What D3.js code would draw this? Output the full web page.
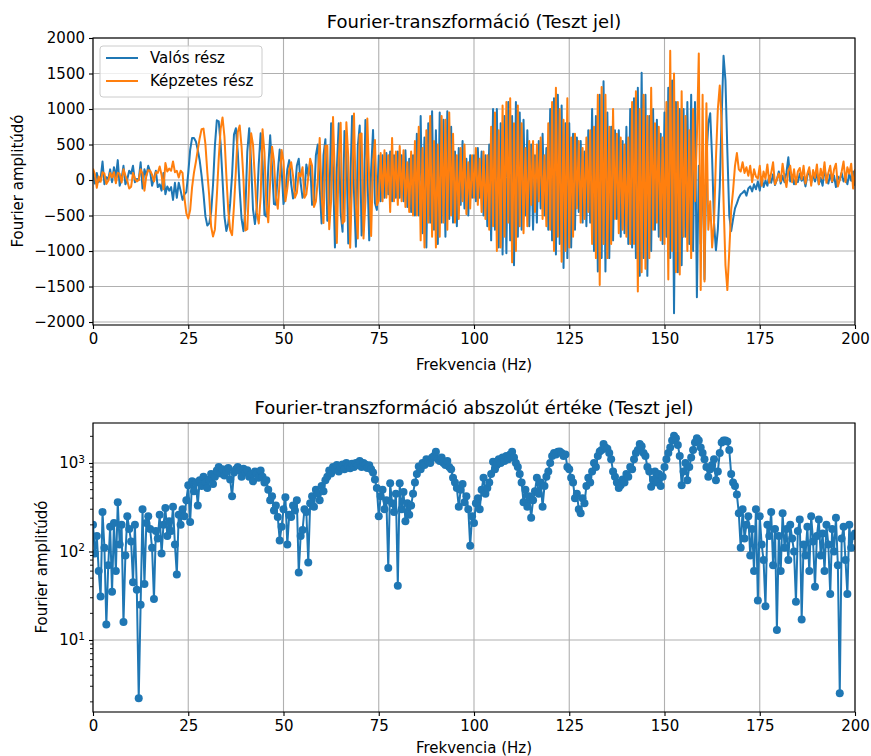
<!DOCTYPE html>
<html>
<head>
<meta charset="utf-8">
<script src="https://d3js.org/d3.v7.min.js"></script>
<style>
    body { margin: 0; background: #fff; }
    svg text { font-family: "DejaVu Sans", sans-serif; fill: #000; }
</style>
</head>
<body>
<svg id="chart" width="871" height="756"></svg>
<script>
// frequency step of the spectrum (Hz), one value every half hertz from 0 to 200
const FREQ_STEP = 0.5;

const realPart = [
    120, -50, 100, -30, 20, 260, -60, 40, 10, 150,
    -30, 180, 40, 280, -80, 20, 200, -60, 10, 130,
    90, 200, -30, 15, 1, 250, -120, 150, 60, 200,
    120, -80, 20, 130, -100, -60, -150, 100, -200, -90,
    -150, -100, -280, -40, -250, -40, -150, -280, -200, -171,
    96, 424, 591, 591, 544, 424, 275, 63, -194, -509,
    -640, -611, -459, -70, 488, 840, 827, 505, 0, -514,
    -717, -614, -330, 68, 641, 729, 390, -136, -552, -720,
    -410, 400, 730, 239, -418, -620, -386, 222, 658, 260,
    -489, -514, 171, 629, 171, -339, -348, 116, 430, 154,
    -339, -200, 150, 280, -50, -260, -150, 200, 300, -40,
    -250, -180, 220, 60, 250, -350, -300, 350, 500, -104,
    -611, 350, 575, -575, -400, 799, 157, -950, 157, 799,
    -465, -728, 689, 470, -893, -169, 900, -165, -940, 475,
    766, -781, -475, 846, 153, -850, 139, 705, -325, -421,
    345, -300, 350, -250, 380, -200, 400, -300, 350, -250,
    400, -250, 350, -300, 420, -380, 300, -450, 350, -500,
    650, -500, 900, -750, 600, -950, 800, -600, 970, -700,
    700, -900, 950, -600, 850, -800, 970, -550, 750, -600,
    400, -650, 450, -350, 550, -400, 300, -500, 350, -250,
    350, -300, 450, -250, 400, -500, 350, -650, 500, -850,
    1000, -700, 1000, -950, 800, -1050, 900, -1030, 1100, -850,
    900, -1200, 1100, -800, 950, -700, 850, -500, 700, -650,
    500, -700, 350, -600, 550, -400, 650, -500, 450, -700,
    1000, -850, 1150, -1050, 1200, -900, 1050, -1240, 800, -1100,
    800, -950, 650, -700, 600, -450, 550, -600, 400, -650,
    700, -600, 1000, -1000, 900, -1290, 1200, -1100, 1390, -1290,
    950, -1100, 750, -850, 700, -550, 700, -800, 550, -750,
    750, -900, 1000, -950, 1150, -1100, 1300, -1350, 1510, -1100,
    1200, -1350, 900, -1000, 1000, -700, 850, -800, 650, -900,
    950, -800, 1300, -1100, 1400, -1877, 1100, -1300, 1000, -1200,
    1000, -800, 1100, -900, 1200, -1000, 1100, -1650, 200, -900,
    400, -1400, 300, 800, 940, 300, -600, -990, -700, -100,
    900, 1750, 1400, 400, -500, -720, -550, -400, -330, -250,
    -200, -180, -150, -220, -120, -90, -160, -60, -130, -20,
    -150, 40, -100, -10, -80, 60, -40, 80, -70, 5,
    120, -50, 60, -30, 100, 320, -20, 70, -60, 20,
    -30, 90, -10, 40, -90, 60, 130, -40, 80, -20,
    110, -60, 30, -80, 150, 20, -50, 80, -30, 60,
    -100, 50, 2, 100, -20, 40, -60, 90, -10, 120,
    -80
];

// imaginary part of the transform
const imagPart = [
    160, 80, -110, 50, -25, 110, 90, -55, -11, 100,
    35, 110, -45, 100, 90, -35, 150, 65, -12, -120,
    -95, 100, 20, -20, 2, 150, 90, -150, 65, 140,
    130, 75, -20, 110, 100, 190, 70, -130, 240, 120,
    160, 130, 260, 110, 130, 35, 130, 100, -250, -470,
    -542, -424, -104, 104, 254, 424, 589, 717, 724, 509,
    113, -222, -655, -797, -696, -225, 301, 721, 880, 613,
    63, -430, -707, -777, -370, 129, 675, 768, 463, 0,
    -710, -693, 0, 658, 498, 0, -460, -611, -239, 714,
    382, -347, -596, -22, 470, 265, -235, -404, -15, 423,
    265, -300, -120, 150, 250, 60, -250, -180, 100, 50,
    180, -250, -200, 40, 300, 200, -380, -300, 0, 591,
    -222, -606, 482, 482, -693, -291, 887, 0, -887, 291,
    805, -611, -579, 814, 325, -955, 0, 936, -342, -823,
    643, 656, -823, -308, 867, 0, -788, 257, 563, -354,
    -289, 380, -300, 420, -250, 350, -450, 590, -300, 400,
    -350, 480, -300, 420, -380, 250, -450, 400, -500, 550,
    -500, 750, -850, 450, -950, 700, -600, 900, -800, 550,
    -950, 500, -800, 900, -600, 850, -700, 950, -500, 650,
    -600, 350, -550, 450, -300, 500, -480, 250, -400, 350,
    -250, 450, -350, 300, -450, 400, -550, 350, -700, 750,
    -650, 950, -1000, 700, -950, 1050, -800, 1100, -600, 1150,
    -1160, 800, -1000, 1050, -650, 800, -750, 450, -650, 550,
    -350, 550, -450, 500, -300, 600, -550, 350, -650, 800,
    -700, 1100, -1000, 1300, -800, 1000, -1150, 850, -1000, 1150,
    -950, 600, -800, 650, -400, 550, -600, 450, -550, 600,
    -450, 700, -900, 750, -1100, 1200, -1480, 1310, -900, 1200,
    -1100, 750, -900, 1000, -550, 650, -750, 600, -700, 500,
    -800, 600, -900, 1100, -900, 1250, -1570, 1000, -1300, 1200,
    -1250, 900, -1100, 1300, -700, 800, -600, 750, -850, 600,
    -900, 1100, -1400, 1820, -1000, 1500, -1300, 1100, -1330, 1250,
    -800, 900, -1000, 700, -1100, 1000, -300, 600, 1780, -1550,
    1200, -1430, 1080, -700, -300, -950, -600, 300, 1000, 1330,
    800, -300, -1200, -1550, -1000, -420, -150, 200, 380, 150,
    120, 250, 100, 180, 60, 200, -30, 150, 50, 20,
    200, -80, 120, 15, 220, -40, 100, 250, -60, 10,
    90, -20, 230, 40, -100, 130, 200, -30, 150, -60,
    120, 170, 10, 200, -50, 90, 180, -80, 140, 30,
    220, -60, 160, 20, 250, -40, 100, 200, -20, 150,
    230, -90, 1, 120, 260, -30, 180, 90, 230, -120,
    150
];

const magnitude = [
    200, 95, 150, 60, 31, 280, 110, 15, 70, 190,
    35, 210, 60, 360, 120, 200, 16, 90, 250, 180,
    130, 45, 200, 37, 2.2, 25, 300, 43, 210, 250,
    180, 110, 29, 170, 140, 260, 95, 200, 310, 150,
    220, 170, 320, 120, 55, 260, 200, 300, 250, 380,
    560, 215, 620, 480, 600, 330, 640, 550, 700, 600,
    520, 650, 750, 580, 700, 820, 900, 760, 850, 720,
    800, 880, 650, 420, 780, 850, 900, 820, 700, 860,
    780, 830, 700, 750, 620, 800, 760, 680, 820, 700,
    600, 640, 500, 380, 420, 290, 330, 245, 133, 190,
    300, 410, 120, 260, 245, 330, 290, 380, 58, 150,
    175, 300, 280, 75, 350, 420, 320, 500, 450, 380,
    550, 480, 640, 700, 820, 760, 900, 850, 950, 800,
    900, 960, 850, 1000, 920, 870, 980, 900, 1000, 950,
    1050, 900, 1000, 960, 880, 940, 850, 780, 650, 520,
    250, 420, 500, 300, 380, 65, 590, 350, 280, 450,
    41, 590, 300, 470, 220, 350, 260, 330, 450, 600,
    750, 910, 850, 1000, 950, 1100, 1050, 1000, 1150, 1200,
    1340, 1100, 1050, 1150, 1000, 950, 1050, 900, 850, 680,
    600, 520, 320, 500, 580, 360, 420, 300, 116, 250,
    210, 350, 400, 300, 500, 680, 450, 520, 600, 750,
    1030, 850, 950, 1100, 1000, 1150, 1050, 1200, 1100, 1250,
    1340, 1150, 1000, 900, 750, 600, 360, 500, 320, 420,
    240, 380, 480, 680, 450, 600, 320, 550, 700, 800,
    1000, 1200, 1300, 1250, 1340, 1350, 1300, 1200, 1250, 900,
    850, 680, 600, 400, 450, 300, 270, 400, 350, 550,
    680, 600, 800, 1000, 900, 1200, 1350, 1400, 1640, 1500,
    1450, 1300, 1100, 800, 700, 600, 520, 560, 650, 600,
    750, 700, 900, 850, 1100, 1300, 1400, 1640, 1550, 1300,
    1200, 900, 800, 540, 650, 800, 600, 750, 550, 700,
    900, 1100, 1300, 1500, 1800, 2030, 1900, 1600, 1200, 560,
    800, 1000, 640, 900, 1150, 1400, 1700, 1900, 1800, 1500,
    1300, 1100, 900, 700, 850, 950, 1100, 640, 800, 1300,
    1700, 1800, 1800, 1750, 1400, 750, 600, 550, 440, 270,
    110, 300, 140, 200, 250, 90, 180, 60, 300, 28,
    250, 120, 80, 24, 200, 150, 280, 70, 180, 13,
    150, 60, 270, 110, 180, 80, 200, 140, 100, 27,
    170, 230, 17, 120, 90, 190, 60, 250, 130, 40,
    150, 230, 90, 160, 60, 200, 120, 33, 180, 100,
    240, 70, 2.5, 140, 190, 80, 33, 200, 110, 150,
    160
];

// tick values
const xTicks = [0, 25, 50, 75, 100, 125, 150, 175, 200];
const yTicksTop = [-2000, -1500, -1000, -500, 0, 500, 1000, 1500, 2000];
const yTicksLog = [10, 100, 1000];
const seriesNames = ['Valós rész', 'Képzetes rész'];

const blue = '#1f77b4';
const orange = '#ff7f0e';
const FONT = 15;      // ticks, labels, legend
const TITLE_FONT = 18;

const svg = d3.select('#chart');
const freq = d3.range(realPart.length).map(i => i * FREQ_STEP);

// plot areas
const plotLeft = 93, plotRight = 855;
const panel1 = {top: 38, bottom: 325};
const panel2 = {top: 423, bottom: 712};

const x = d3.scaleLinear().domain([0, 200]).range([plotLeft, plotRight]);
const y1 = d3.scaleLinear().domain([-2042, 2000]).range([panel1.bottom, panel1.top]);
const y2 = d3.scaleLog().domain([1.536, 2830]).range([panel2.bottom, panel2.top]);

// clip paths so lines and markers stay inside the axes
const defs = svg.append('defs');
[['clip1', panel1], ['clip2', panel2]].forEach(([id, p]) => {
    defs.append('clipPath').attr('id', id)
        .append('rect')
        .attr('x', plotLeft).attr('y', p.top)
        .attr('width', plotRight - plotLeft).attr('height', p.bottom - p.top);
});

// grid lines for one panel
function drawGrid(p, yScale, yVals) {
    const g = svg.append('g').attr('stroke', '#b0b0b0').attr('stroke-width', 1.1);
    g.selectAll('.gx').data(xTicks).enter().append('line')
        .attr('x1', d => x(d)).attr('x2', d => x(d))
        .attr('y1', p.top).attr('y2', p.bottom);
    g.selectAll('.gy').data(yVals).enter().append('line')
        .attr('x1', plotLeft).attr('x2', plotRight)
        .attr('y1', d => yScale(d)).attr('y2', d => yScale(d));
}

// x axis with matplotlib-like ticks
function drawXAxis(p) {
    const ax = svg.append('g')
        .attr('transform', 'translate(0,' + p.bottom + ')')
        .call(d3.axisBottom(x).tickValues(xTicks).tickSize(4).tickPadding(4).tickFormat(d3.format('d')));
    ax.select('.domain').remove();
    ax.selectAll('line').attr('stroke', '#000').attr('stroke-width', 1.1);
    ax.selectAll('text').attr('font-size', FONT).attr('font-family', 'DejaVu Sans');
}

function drawFrame(p) {
    svg.append('rect')
        .attr('x', plotLeft).attr('y', p.top)
        .attr('width', plotRight - plotLeft).attr('height', p.bottom - p.top)
        .attr('fill', 'none').attr('stroke', '#000').attr('stroke-width', 1.1);
}

// ---------- upper panel ----------
drawGrid(panel1, y1, yTicksTop);

const line1 = d3.line().x((d, i) => x(freq[i])).y(d => y1(d));
const lines1 = svg.append('g').attr('clip-path', 'url(#clip1)');
lines1.append('path').datum(realPart)
    .attr('d', line1).attr('fill', 'none')
    .attr('stroke', blue).attr('stroke-width', 2).attr('stroke-linejoin', 'round');
lines1.append('path').datum(imagPart)
    .attr('d', line1).attr('fill', 'none')
    .attr('stroke', orange).attr('stroke-width', 2).attr('stroke-linejoin', 'round');

drawFrame(panel1);
drawXAxis(panel1);

const yAx1 = svg.append('g')
    .attr('transform', 'translate(' + plotLeft + ',0)')
    .call(d3.axisLeft(y1).tickValues(yTicksTop).tickSize(4).tickPadding(4)
        .tickFormat(d => d < 0 ? '\u2212' + Math.abs(d) : d));
yAx1.select('.domain').remove();
yAx1.selectAll('line').attr('stroke', '#000').attr('stroke-width', 1.1);
yAx1.selectAll('text').attr('font-size', FONT).attr('font-family', 'DejaVu Sans');

// legend
const legend = svg.append('g').attr('transform', 'translate(100,46)');
legend.append('rect')
    .attr('width', 162).attr('height', 51).attr('rx', 3)
    .attr('fill', '#fff').attr('fill-opacity', 0.8)
    .attr('stroke', '#cccccc').attr('stroke-width', 1);
[blue, orange].forEach((c, i) => {
    const yy = 12 + i * 23;
    legend.append('line')
        .attr('x1', 6).attr('x2', 38).attr('y1', yy).attr('y2', yy)
        .attr('stroke', c).attr('stroke-width', 2);
    legend.append('text')
        .attr('x', 50).attr('y', yy).attr('dy', '0.36em')
        .attr('font-size', FONT).text(seriesNames[i]);
});

svg.append('text').attr('x', (plotLeft + plotRight) / 2).attr('y', 28)
    .attr('text-anchor', 'middle').attr('font-size', TITLE_FONT)
    .text('Fourier-transzformáció (Teszt jel)');
svg.append('text').attr('x', (plotLeft + plotRight) / 2).attr('y', 370)
    .attr('text-anchor', 'middle').attr('font-size', FONT)
    .text('Frekvencia (Hz)');
svg.append('text')
    .attr('transform', 'translate(23,181) rotate(-90)')
    .attr('text-anchor', 'middle').attr('font-size', FONT)
    .text('Fourier amplitúdó');

// ---------- lower panel ----------
drawGrid(panel2, y2, yTicksLog);

const line2 = d3.line().x((d, i) => x(freq[i])).y(d => y2(d));
const lines2 = svg.append('g').attr('clip-path', 'url(#clip2)');
lines2.append('path').datum(magnitude)
    .attr('d', line2).attr('fill', 'none')
    .attr('stroke', blue).attr('stroke-width', 2).attr('stroke-linejoin', 'round');
lines2.selectAll('circle').data(magnitude).enter().append('circle')
    .attr('cx', (d, i) => x(freq[i]))
    .attr('cy', d => y2(d))
    .attr('r', 4)
    .attr('fill', blue);

drawFrame(panel2);
drawXAxis(panel2);

// log y axis: major ticks with powers of ten, minor ticks in between
const minorTicks = [];
[1, 10, 100, 1000].forEach(dec => {
    for (let m = 2; m <= 9; m++) {
        const v = dec * m;
        if (v > y2.domain()[0] && v < y2.domain()[1]) minorTicks.push(v);
    }
});
svg.append('g').selectAll('line').data(minorTicks).enter().append('line')
    .attr('x1', plotLeft - 3).attr('x2', plotLeft)
    .attr('y1', d => y2(d)).attr('y2', d => y2(d))
    .attr('stroke', '#000').attr('stroke-width', 0.9);

const yAx2 = svg.append('g')
    .attr('transform', 'translate(' + plotLeft + ',0)')
    .call(d3.axisLeft(y2).tickValues(yTicksLog).tickSize(4).tickPadding(4).tickFormat(() => ''));
yAx2.select('.domain').remove();
yAx2.selectAll('line').attr('stroke', '#000').attr('stroke-width', 1.1);
yAx2.selectAll('.tick text').each(function(d) {
    const t = d3.select(this).attr('font-size', FONT);
    t.append('tspan').text('10');
    t.append('tspan').attr('font-size', 10.5).attr('dy', '-0.55em')
        .text(String(Math.round(Math.log10(d))));
});

svg.append('text').attr('x', (plotLeft + plotRight) / 2).attr('y', 414)
    .attr('text-anchor', 'middle').attr('font-size', TITLE_FONT)
    .text('Fourier-transzformáció abszolút értéke (Teszt jel)');
svg.append('text').attr('x', (plotLeft + plotRight) / 2).attr('y', 753)
    .attr('text-anchor', 'middle').attr('font-size', FONT)
    .text('Frekvencia (Hz)');
svg.append('text')
    .attr('transform', 'translate(47,567) rotate(-90)')
    .attr('text-anchor', 'middle').attr('font-size', FONT)
    .text('Fourier amplitúdó');
</script>
</body>
</html>
